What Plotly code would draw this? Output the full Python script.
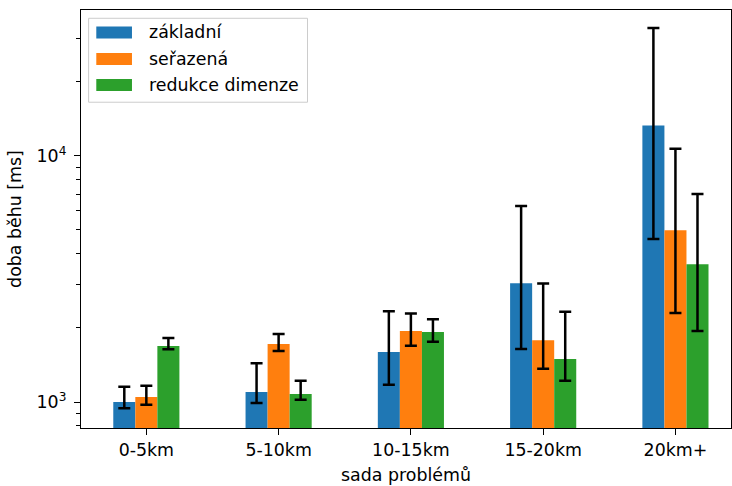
import plotly.graph_objects as go

# Problem sets on the x axis
categories = ["0-5km", "5-10km", "10-15km", "15-20km", "20km+"]
series_names = ["základní", "seřazená", "redukce dimenze"]
colors = ["#1f77b4", "#ff7f0e", "#2ca02c"]

# Mean run time [ms] per method
mean_zakladni = [1000, 1098, 1595, 3039, 13300]
mean_serazena = [1048, 1719, 1941, 1784, 4987]
mean_redukce = [1687, 1078, 1923, 1494, 3628]

# Lower / upper end of the error bars [ms]
low_zakladni = [943, 991, 1175, 1641, 4597]
high_zakladni = [1153, 1436, 2339, 6256, 33100]
low_serazena = [975, 1611, 1692, 1365, 2301]
high_serazena = [1164, 1888, 2291, 3030, 10700]
low_redukce = [1637, 1022, 1757, 1220, 1941]
high_redukce = [1818, 1220, 2171, 2324, 6999]

means = [mean_zakladni, mean_serazena, mean_redukce]
lows = [low_zakladni, low_serazena, low_redukce]
highs = [high_zakladni, high_serazena, high_redukce]

FONT = "DejaVu Sans"
FS = 17.4

# Plot area in pixels
PL, PR, PT, PB = 80.7, 731, 10, 428.3

fig = go.Figure()
for name, color, m, lo, hi in zip(series_names, colors, means, lows, highs):
    fig.add_trace(go.Bar(
        x=categories, y=m, name=name, marker=dict(color=color, line=dict(width=0)),
        error_y=dict(type="data", symmetric=False,
                     array=[h - v for h, v in zip(hi, m)],
                     arrayminus=[v - l for v, l in zip(m, lo)],
                     color="black", thickness=2.5, width=6),
        showlegend=False,
    ))

fig.update_layout(
    width=732, height=486,
    margin=dict(l=PL, r=732 - PR, t=PT, b=486 - PB),
    paper_bgcolor="white", plot_bgcolor="white",
    barmode="group", bargap=0.5, bargroupgap=0,
    font=dict(family=FONT, size=FS, color="black"),
)

fig.update_xaxes(
    type="category", range=[-0.494, 4.42],
    showline=True, linecolor="black", linewidth=1.3, mirror=True,
    ticks="outside", ticklen=6, tickwidth=1.3, tickcolor="black",
    showgrid=False, zeroline=False,
    title=dict(text="sada problémů", standoff=9, font=dict(size=FS)),
    tickfont=dict(size=FS),
)

fig.update_yaxes(
    type="log", range=[2.8944, 4.5928],
    tickvals=[1000, 10000], ticktext=["10<sup>3</sup>", "10<sup>4</sup>"],
    showline=True, linecolor="black", linewidth=1.3, mirror=True,
    ticks="outside", ticklen=6, tickwidth=1.3, tickcolor="black",
    ticklabelstandoff=4,
    minor=dict(ticks="outside", ticklen=3.5, tickwidth=1, tickcolor="black",
               tickvals=[800, 900, 2000, 3000, 4000, 5000, 6000, 7000, 8000, 9000,
                         20000, 30000], showgrid=False),
    showgrid=False, zeroline=False,
    title=dict(text="doba běhu [ms]", standoff=10, font=dict(size=FS)),
    tickfont=dict(size=FS),
)


def fx(x):
    return (x - PL) / (PR - PL)


def fy(y):
    return (PB - y) / (PB - PT)


# Legend box in the upper left corner
fig.add_shape(type="rect", xref="paper", yref="paper",
              x0=fx(88.3), x1=fx(307.3), y0=fy(102.3), y1=fy(18.3),
              line=dict(color="#cccccc", width=1), fillcolor="rgba(255,255,255,0.8)")

row_centers = [32.5, 59, 85]
for name, color, yc in zip(series_names, colors, row_centers):
    fig.add_shape(type="rect", xref="paper", yref="paper",
                  x0=fx(96), x1=fx(131.7), y0=fy(yc + 6), y1=fy(yc - 6),
                  line=dict(width=0), fillcolor=color)
    fig.add_annotation(xref="paper", yref="paper", x=fx(146.5), y=fy(yc),
                       text=name, showarrow=False, xanchor="left", yanchor="middle",
                       font=dict(family=FONT, size=FS, color="black"))

fig.write_html("out.html")
